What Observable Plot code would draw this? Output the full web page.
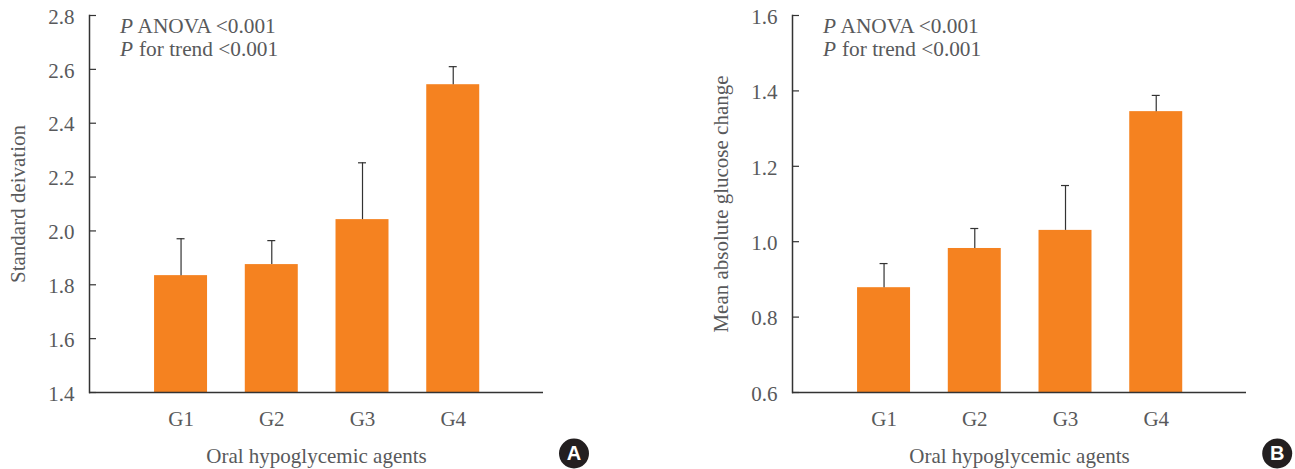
<!DOCTYPE html>
<html><head><meta charset="utf-8">
<script src="https://cdn.jsdelivr.net/npm/d3@7"></script>
<script src="https://cdn.jsdelivr.net/npm/@observablehq/plot@0.6"></script>
<style>
html,body{margin:0;padding:0;background:#fff}
#wrap{position:relative;width:1295px;height:469px;overflow:hidden}
#wrap svg{position:absolute;top:0}
</style></head><body><div id="wrap"></div>
<script>
const groups = ["G1","G2","G3","G4"];
const sdValues = [1.834,1.875,2.042,2.543];
const sdUpper = [1.971,1.964,2.253,2.61];
const sdTicks = [1.4,1.6,1.8,2.0,2.2,2.4,2.6,2.8];
const magValues = [0.878,0.982,1.03,1.345];
const magUpper = [0.942,1.035,1.149,1.388];
const magTicks = [0.6,0.8,1.0,1.2,1.4,1.6];
const xTitle = "Oral hypoglycemic agents";
const statPrefix = ["P","P"];
const statText = ["ANOVA <0.001","for trend <0.001"];
const gray = "#58595b", orange = "#F58220", ink = "#333", serif = "'Liberation Serif', serif";

function panel({values, upper, ticks, yTitle, badge, left, width, marginRight, badgeX}) {
  const rows = groups.map((g,i)=>({g, v:values[i], u:upper[i]}));
  const base = ticks[0];
  const stats = statPrefix.flatMap((p,i)=>[
    Plot.text([p],{text:d=>d,frameAnchor:"top-left",lineAnchor:"middle",textAnchor:"start",dx:30.5,dy:11+i*22.5,fontStyle:"italic",fill:gray,fontSize:21.3}),
    Plot.text([statText[i]],{text:d=>d,frameAnchor:"top-left",lineAnchor:"middle",textAnchor:"start",dx:i?49.5:48,dy:11+i*22.5,fill:gray,fontSize:21.3})
  ]);
  const svg = Plot.plot({
    width, height:469, marginLeft:89, marginRight, marginTop:15, marginBottom:77,
    style:{fontFamily:serif, fontSize:"21px", color:gray, background:"transparent"},
    x:{domain:groups, paddingInner:0.416, paddingOuter:0.71, align:0.505, round:false},
    y:{domain:[base,ticks[ticks.length-1]]},
    marks:[
      Plot.barY(rows,{x:"g",y1:base,y2:"v",fill:orange}),
      Plot.ruleX(rows,{x:"g",y1:"v",y2:"u",stroke:ink,strokeWidth:1.2}),
      Plot.tickY(rows,{x:"g",y:"u",stroke:ink,strokeWidth:1.2,insetLeft:22.5,insetRight:22.5}),
      Plot.frame({anchor:"left",stroke:ink,strokeWidth:1.5}),
      Plot.ruleY([base],{stroke:ink,strokeWidth:1.5}),
      Plot.axisY({ticks, tickSize:-7, tickFormat:()=>"", stroke:ink, strokeWidth:1.2, label:null}),
      Plot.axisY({ticks, tickFormat:d3.format(".1f"), tickSize:0, tickPadding:15, dy:1.5,
        fill:gray, label:yTitle, labelAnchor:"center", labelArrow:"none", labelOffset:79, fontSize:21}),
      Plot.axisX({tickSize:0, tickPadding:19, fill:gray, label:xTitle, labelAnchor:"center", labelArrow:"none", labelOffset:70, fontSize:21}),
      ...stats,
      Plot.dot([badge],{frameAnchor:"bottom-left",dx:badgeX-89,dy:61,r:15,fill:"#231f20"}),
      Plot.text([badge],{text:d=>d,frameAnchor:"bottom-left",lineAnchor:"middle",textAnchor:"middle",dx:badgeX-89,dy:61,fill:"#fff",fontFamily:"'Liberation Sans',sans-serif",fontWeight:"bold",fontSize:20})
    ]
  });
  svg.style.left = left+"px";
  return svg;
}
const wrap = document.getElementById("wrap");
wrap.append(panel({values:sdValues,upper:sdUpper,ticks:sdTicks,yTitle:"Standard deivation",badge:"A",left:0,width:600,marginRight:57,badgeX:573.5}));
wrap.append(panel({values:magValues,upper:magUpper,ticks:magTicks,yTitle:"Mean absolute glucose change",badge:"B",left:703,width:592,marginRight:49,badgeX:573.7}));
</script></body></html>
